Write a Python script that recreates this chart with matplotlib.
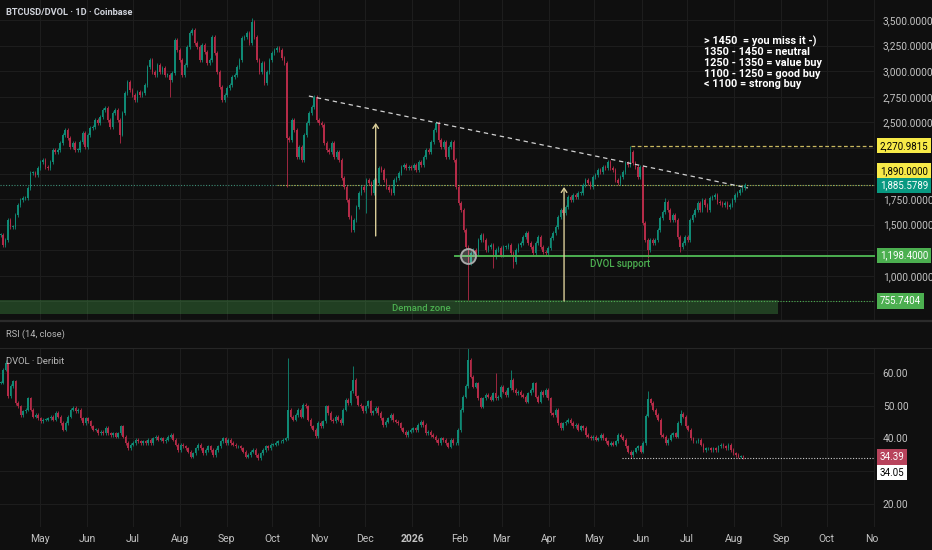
#!/usr/bin/env python3
"""
BTCUSD/DVOL daily chart with DVOL pane, redrawn in matplotlib.
"""

import matplotlib
matplotlib.use("Agg")
import matplotlib.dates as mdates
import matplotlib.pyplot as plt
import numpy as np
import pandas as pd
from matplotlib.lines import Line2D
from matplotlib.ticker import FixedLocator, FuncFormatter
from matplotlib.transforms import Bbox, TransformedBbox, blended_transform_factory

plt.rcParams["font.family"] = ["Roboto", "DejaVu Sans"]

# ---- data ----------------------------------------------------------------

# BTCUSD/DVOL closes (roughly every 1.6 days), Apr 2025 -> Aug 2026
ratio_close = [
    1399, 1302, 1350, 1546, 1478, 1478, 1595, 1693, 1741, 1761,
    1761, 1859, 2005, 2005, 1986, 2054, 2113,
    2132, 2064, 2054, 2113, 2230, 2210, 2230, 2298, 2377, 2425,
    2347, 2259, 2298, 2230, 2230, 2308, 2396, 2259, 2377, 2445,
    2455, 2523, 2494, 2552, 2621, 2640, 2523, 2455, 2591, 2621,
    2523, 2380, 2591, 2787, 2894, 2816, 2767, 2718, 2797, 2767,
    2787, 2865, 3041, 3109, 2992, 2963, 3060, 2992, 3031, 2963,
    2963, 2914, 2982, 3305, 3207, 3109, 2963, 3060, 3236, 3373,
    3402, 3275, 3236, 3109, 3256, 3187, 3080, 3109, 3334, 3178,
    2992, 2845, 2718, 2767, 2835, 2865, 2943, 2963, 3041, 3109,
    3324, 3334, 3373, 3275, 3480, 3334, 3109, 2992, 3080, 2884,
    2992, 3109, 3178, 3207, 3226, 3207, 3129, 3080, 2350,
    2328, 2523, 2425, 2161, 2259, 2132, 2377, 2494, 2591, 2650,
    2748, 2523, 2494, 2474, 2298, 2230, 2210, 2298, 2161, 2210,
    2132, 1956, 1868, 1741, 1575, 1448, 1546, 1673, 1810, 1868,
    1839, 1937, 1907, 1810, 1937, 1907, 2054, 2035, 1937, 1868,
    1839, 1810, 1937, 1956, 2005, 2064, 2083, 2054, 2064, 2054,
    2083, 2035, 2113, 2083, 2161, 2230, 2210, 2308, 2425, 2494,
    2328, 2259, 2308, 2161, 2259, 2308, 2132, 1868, 1712, 1644,
    1448, 1282, 1126, 1224, 1253, 1224, 1350, 1399, 1350, 1253,
    1282, 1302, 1184, 1253, 1272, 1204, 1282, 1282, 1302, 1224,
    1136, 1253, 1302, 1321, 1380, 1419, 1321, 1282, 1224, 1321,
    1380, 1282, 1233, 1224, 1272, 1370, 1419, 1478, 1575, 1644,
    1614, 1673, 1771, 1741, 1790, 1771, 1810, 1810, 1888, 1937,
    1907, 1868, 1966, 1986, 2035, 2015, 2064, 2054, 2113, 2054,
    2035, 1937, 1907, 1966, 2015, 2103, 2083, 2210, 2103, 2064,
    1966, 2064, 1517, 1350, 1253, 1350, 1321, 1350, 1448, 1566,
    1624, 1722, 1644, 1546, 1595, 1546, 1380, 1282, 1321, 1380,
    1350, 1546, 1595, 1644, 1712, 1644, 1741, 1693, 1644, 1761,
    1771, 1790, 1722, 1712, 1693, 1712, 1673, 1693, 1741, 1790,
    1810, 1839, 1859, 1886,
]
# long wicks (candle index -> value)
ratio_high = {101: 3520, 115: 3100, 126: 2770, 175: 2510, 253: 2271, 267: 1760}
ratio_low = {48: 2300, 68: 2748, 115: 1868, 147: 1614, 188: 760,
             198: 1077, 206: 1077, 260: 1175, 273: 1233}

# DVOL closes, same period
dvol_close = [
    57.0, 61.0, 63.0, 52.9, 56.0, 57.5, 50.8, 49.8, 47.2, 48.3,
    48.8, 52.3, 48.8, 46.7, 47.2, 46.2, 45.2, 45.7, 45.7, 46.2,
    46.7, 45.7, 47.8, 46.7, 44.7, 42.7, 44.7, 46.7, 48.8, 49.3,
    48.3, 48.8, 46.2, 44.7, 46.2, 45.2, 43.7, 42.7, 42.7, 41.6,
    42.1, 41.6, 43.2, 41.6, 41.1, 41.6, 40.6, 41.6, 43.7, 40.6,
    38.6, 37.0, 38.1, 38.6, 39.6, 39.1, 38.6, 39.1, 38.6, 39.6,
    38.6, 40.1, 40.6, 39.6, 40.1, 39.1, 39.6, 40.6, 41.1, 39.6,
    38.1, 36.5, 38.1, 37.6, 37.0, 36.0, 34.5, 35.5, 37.0, 38.1,
    37.0, 35.5, 36.5, 37.6, 36.5, 35.0, 36.5, 37.6, 39.1, 40.1,
    38.6, 39.6, 38.6, 38.1, 37.6, 37.6, 37.0, 36.0, 34.5, 35.0,
    36.0, 36.5, 35.0, 34.0, 35.5, 36.5, 37.6, 37.0, 38.1, 38.1,
    38.6, 39.1, 39.1, 39.6, 40.1, 48.8, 46.7, 45.7, 47.2, 48.8,
    46.7, 50.3, 49.8, 45.7, 43.7, 42.7, 40.8, 44.7, 43.7, 45.2,
    49.8, 47.8, 45.7, 45.2, 46.7, 45.7, 44.7, 48.8, 51.8, 50.8,
    54.4, 58.0, 52.9, 50.3, 49.8, 48.3, 49.8, 51.3, 47.8, 48.3,
    49.3, 47.8,
    46.2, 44.1, 45.1, 46.2, 47.2, 45.6, 45.1, 44.6, 43.1, 42.1,
    41.1, 42.1, 42.6, 43.1, 42.6, 44.1, 45.1, 44.1, 41.6, 42.1,
    41.1, 40.6, 39.5, 38.5, 40.1, 39.5, 38.5, 37.5, 39.5, 38.5,
    38.5, 42.6, 48.7, 52.8, 56.0, 64.0, 58.9, 55.8, 56.8, 52.3,
    49.7, 52.3, 53.3, 52.8, 51.8, 53.8, 52.3, 52.8, 55.8, 54.3,
    53.3, 55.3, 57.9, 54.8, 53.8, 54.3, 53.3, 52.8, 51.2, 53.8,
    54.8, 56.8, 52.8, 51.2, 54.3, 53.3, 54.8, 52.3, 47.7, 47.2,
    48.7, 44.6, 43.1, 44.6, 45.1,
    45.7, 44.7, 43.7, 44.2, 42.7, 43.7, 43.2, 41.1, 40.6, 40.1,
    40.6, 39.6, 40.1, 41.1, 40.1, 39.1, 38.1, 38.6, 38.1, 39.1,
    41.1, 40.6, 39.6, 37.6, 36.0, 35.0, 36.0, 37.0, 37.6, 36.0,
    38.6, 47.0, 52.0, 50.8, 48.8, 47.2, 45.7, 41.1, 40.6, 38.6,
    39.6, 41.1, 41.6, 40.6, 44.7, 47.5, 46.7, 43.7, 42.7, 40.1,
    39.1, 39.1, 39.6, 38.1, 36.5, 37.0, 37.0, 36.5, 37.0, 36.5,
    37.6, 38.1, 37.6, 37.0, 38.1, 36.5, 35.5, 35.0, 34.5, 34.5,
    34.39,
]
dvol_high = {2: 64.0, 115: 64.6, 141: 62.0, 187: 67.5, 198: 60.0,
             204: 61.0, 259: 54.4, 272: 48.8}
dvol_low = {115: 39.5, 252: 34.05}

# drawings on the chart
trend_start = ("2025-10-25", 2757)
trend_end = ("2026-08-10", 1859)
arrow_1 = ("2025-12-08", 1390, 2494)
arrow_2 = ("2026-04-11", 755, 1868)
level_top = 2270.9815
level_top_start = "2026-05-25"
level_ray = 1890.0
level_ray_start = "2025-10-04"
last_price = 1885.5789
support = 1198.4
support_start = "2026-01-29"
zone_low, zone_high, zone_end = 628, 764, "2026-08-30"
zone_line = 755.7404
circle_at = ("2026-02-07", 1198)
dvol_last = 34.39
dvol_level = 34.05
dvol_level_start = "2026-05-19"

zones_text = [
    "> 1450  = you miss it -)",
    "1350 - 1450 = neutral",
    "1250 - 1350 = value buy",
    "1100 - 1250 = good buy",
    "< 1100 = strong buy",
]

main_ticks = [750, 1000, 1250, 1500, 1750, 2000, 2250, 2500, 2750, 3000, 3250, 3500]
main_hidden = {750, 1250, 2000, 2250}
dvol_ticks = [20, 30, 40, 50, 60]
dvol_hidden = {30}

# ---- style ---------------------------------------------------------------

BG = "#0f0f0f"
GRID = "#1d1d1d"
UP = "#0f8a75"
DOWN = "#b52b48"
AXIS_TXT = "#c3c3c3"
GREEN = "#4caf50"
YELLOW = "#f7ea48"
LABEL_SIZE = 7.3
TAG_SIZE = 7.0

XLIM = (pd.Timestamp("2025-04-04 16:00"), pd.Timestamp("2026-11-01 17:00"))
W, H = 932, 550


def draw_candles(ax, dates, closes, highs_over, lows_over, pad, width):
    closes = np.asarray(closes, dtype=float)
    opens = np.r_[closes[0], closes[:-1]]
    highs = np.maximum(opens, closes) + pad
    lows = np.minimum(opens, closes) - pad
    for i, v in highs_over.items():
        highs[i] = v
    for i, v in lows_over.items():
        lows[i] = v
    colors = np.where(closes >= opens, UP, DOWN)
    x = mdates.date2num(dates)
    ax.vlines(x, lows, highs, colors=colors, lw=0.6, zorder=3)
    body = np.maximum(np.abs(closes - opens), pad * 0.4)
    ax.bar(x, body, bottom=np.minimum(opens, closes), width=width,
           color=colors, lw=0, zorder=3)


def style_pane(ax):
    ax.set_facecolor(BG)
    for s in ax.spines.values():
        s.set_visible(False)
    ax.set_xlim(*XLIM)


def price_tag(ax, value, text, face, color, dy=0):
    tr = blended_transform_factory(ax.transAxes, ax.transData)
    ax.annotate(text, xy=(1.0, value), xycoords=tr, xytext=(3.6, dy),
                textcoords="offset points", ha="left", va="center",
                fontsize=TAG_SIZE, color=color, annotation_clip=False, zorder=10,
                bbox=dict(boxstyle="square,pad=0.28", fc=face, ec="none"))


def main():
    fig = plt.figure(figsize=(W / 100, H / 100), dpi=100, facecolor=BG)

    def rect(top, bottom):
        return [0, 1 - bottom / H, 875 / W, (bottom - top) / H]

    ax = fig.add_axes(rect(0, 320))
    ax_rsi = fig.add_axes(rect(322, 347))
    ax_dv = fig.add_axes(rect(348, 527))
    for a in (ax, ax_rsi, ax_dv):
        style_pane(a)

    months = pd.date_range("2025-05-01", "2026-11-01", freq="MS")
    for a in (ax, ax_dv):
        for m in months:
            a.axvline(m, color=GRID, lw=0.8, zorder=0)

    # ---- main pane ----
    ratio_dates = pd.date_range("2025-04-05", "2026-08-08", periods=len(ratio_close))
    step = (ratio_dates[1] - ratio_dates[0]).total_seconds() / 86400
    draw_candles(ax, ratio_dates, ratio_close, ratio_high, ratio_low, 18, step * 0.62)

    ax.set_ylim(569, 3695)
    ax.yaxis.tick_right()
    ax.yaxis.set_major_locator(FixedLocator(main_ticks))
    ax.yaxis.set_major_formatter(FuncFormatter(
        lambda v, p: "" if round(v) in main_hidden else f"{v:,.4f}"))
    ax.tick_params(axis="y", length=0, pad=5.6, labelsize=LABEL_SIZE, labelcolor=AXIS_TXT)
    ax.tick_params(axis="x", bottom=False, labelbottom=False)
    ax.grid(axis="y", color=GRID, lw=0.8, zorder=0)
    ax.set_axisbelow(True)

    # demand zone
    ax.fill_between([XLIM[0], pd.Timestamp(zone_end)], zone_low, zone_high,
                    color=GREEN, alpha=0.3, lw=0, zorder=1)
    ax.text(pd.Timestamp("2026-01-07"), 677, "Demand zone", color=GREEN,
            fontsize=6.8, fontweight="medium", ha="center", va="center", zorder=5)
    ax.plot([pd.Timestamp(support_start), XLIM[1]], [zone_line, zone_line],
            ls=(0, (1, 1.5)), color=GREEN, lw=0.8, zorder=4)

    # DVOL support
    ax.plot([pd.Timestamp(support_start), XLIM[1]], [support, support],
            color=GREEN, lw=1.4, zorder=4)
    ax.text(pd.Timestamp("2026-05-18"), 1116, "DVOL support", color=GREEN,
            fontsize=6.9, fontweight="medium", ha="center", va="center", zorder=5)

    # last price line and 1890 ray
    ax.axhline(last_price, ls=(0, (1, 1.5)), color="#3f8f78", lw=0.8, zorder=2)
    ax.plot([pd.Timestamp(level_ray_start), XLIM[1]], [level_ray, level_ray],
            ls=(0, (1, 1.5)), color="#b8a84a", lw=0.8, zorder=2)

    # top dashed level
    ax.plot([pd.Timestamp(level_top_start), XLIM[1]], [level_top, level_top],
            ls=(0, (3, 2)), color="#c9b85f", lw=0.9, zorder=4)

    # descending trend line
    ax.plot([pd.Timestamp(trend_start[0]), pd.Timestamp(trend_end[0])],
            [trend_start[1], trend_end[1]], ls=(0, (3.5, 3)), color="#d2d2d2",
            lw=0.9, zorder=4)

    # yellow arrows
    for d, lo, hi in (arrow_1, arrow_2):
        ax.annotate("", xy=(pd.Timestamp(d), hi), xytext=(pd.Timestamp(d), lo),
                    arrowprops=dict(arrowstyle="->,head_length=0.3,head_width=0.2",
                                    color="#d9cd98", lw=1.0, shrinkA=0, shrinkB=0),
                    zorder=5)

    # circle at the support touch
    ax.scatter([pd.Timestamp(circle_at[0])], [circle_at[1]], s=115,
               facecolor=(1, 1, 1, 0.22), edgecolor="#a9a9a9", lw=1.4, zorder=6)

    # text block
    ax.text(pd.Timestamp("2026-07-12"), 3350, "\n".join(zones_text), color="white",
            fontsize=7.8, fontweight="bold", ha="left", va="top",
            linespacing=1.08, zorder=6)

    fig.text(6 / W, 1 - 12.5 / H, "BTCUSD/DVOL · 1D · Coinbase", color="#d1d4dc",
             fontsize=6.7, fontweight="bold", ha="left", va="center")

    price_tag(ax, level_top, f"{level_top:,.4f}", YELLOW, "black")
    price_tag(ax, level_ray, f"{level_ray:,.4f}", YELLOW, "black", dy=10)
    price_tag(ax, last_price, f"{last_price:,.4f}", "#089981", "white")
    price_tag(ax, support, f"{support:,.4f}", GREEN, "white")
    price_tag(ax, zone_line, f"{zone_line:,.4f}", GREEN, "white")

    # ---- RSI pane (collapsed) ----
    ax_rsi.set_xticks([])
    ax_rsi.set_yticks([])
    fig.text(6 / W, 1 - 334 / H, "RSI (14, close)", color="#b8b8b8",
             fontsize=6.7, ha="left", va="center")

    # ---- DVOL pane ----
    dvol_dates = pd.date_range("2025-04-05", "2026-08-07", periods=len(dvol_close))
    draw_candles(ax_dv, dvol_dates, dvol_close, dvol_high, dvol_low, 0.5, step * 0.62)
    ax_dv.set_ylim(12.98, 67.63)
    ax_dv.yaxis.tick_right()
    ax_dv.yaxis.set_major_locator(FixedLocator(dvol_ticks))
    ax_dv.yaxis.set_major_formatter(FuncFormatter(
        lambda v, p: "" if round(v) in dvol_hidden else f"{v:.2f}"))
    ax_dv.tick_params(axis="y", length=0, pad=5.6, labelsize=LABEL_SIZE, labelcolor=AXIS_TXT)
    ax_dv.grid(axis="y", color=GRID, lw=0.8, zorder=0)
    ax_dv.set_axisbelow(True)

    ax_dv.plot([pd.Timestamp(dvol_level_start), XLIM[1]], [dvol_level, dvol_level],
               ls=(0, (1, 1.5)), color="#cfcfcf", lw=0.8, zorder=4)
    price_tag(ax_dv, dvol_last, f"{dvol_last:.2f}", "#b8435c", "white")
    price_tag(ax_dv, dvol_level, f"{dvol_level:.2f}", "white", "black", dy=-10.5)
    fig.text(6 / W, 1 - 361 / H, "DVOL · Deribit", color="#b8b8b8",
             fontsize=6.8, ha="left", va="center")

    # time axis
    labels = ["2026" if m.month == 1 else m.strftime("%b") for m in months]
    ax_dv.set_xticks(months)
    ax_dv.set_xticklabels(labels)
    ax_dv.tick_params(axis="x", length=0, pad=4.8, labelsize=7.5, labelcolor=AXIS_TXT)
    clip = TransformedBbox(Bbox([[0, 0], [878 / W, 1]]), fig.transFigure)
    for lbl, m in zip(ax_dv.get_xticklabels(), months):
        if m.month == 1:
            lbl.set_fontweight("bold")
        lbl.set_clip_box(clip)
        lbl.set_clip_on(True)

    # pane separators
    fig.add_artist(Line2D([0, 1], [1 - 321 / H] * 2, transform=fig.transFigure,
                          color="#2b2b2b", lw=1.6))
    fig.add_artist(Line2D([0, 1], [1 - 347.5 / H] * 2, transform=fig.transFigure,
                          color="#262626", lw=0.8))

    fig.savefig("out.png", dpi=100, facecolor=BG)
    plt.close(fig)


if __name__ == "__main__":
    main()
